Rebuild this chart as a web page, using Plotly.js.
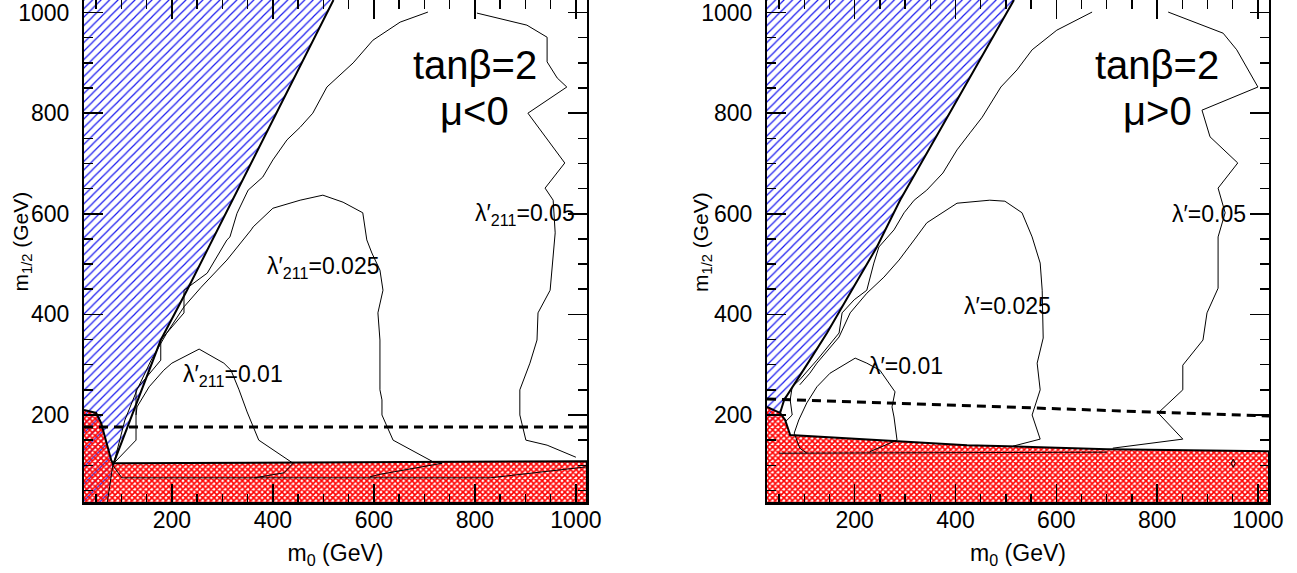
<!DOCTYPE html>
<html>
<head>
<meta charset="utf-8">
<script src="https://cdn.plot.ly/plotly-3.0.1.min.js"></script>
<style>html,body{margin:0;padding:0;background:#fff;}#chart{width:1297px;height:573px;}</style>
</head>
<body>
<div id="chart"></div>
<script>
// ---------- axis ranges / ticks ----------
const m0Range = [26, 1022];
const mHalfRange = [25, 1025];

// ================= LEFT PANEL : tan(beta)=2, mu<0 =================
// excluded (blue hatched) region
const neg_blueX = [26, 520, 230, 178, 83, 72, 26];
const neg_blueY = [1025, 1025, 448, 349, 100, 25, 25];
const neg_blueEdgeX = [520, 230, 178, 83];
const neg_blueEdgeY = [1025, 448, 349, 100];
const neg_blueLowX = [83, 72];
const neg_blueLowY = [100, 25];
// excluded (red cross-hatched) region
const neg_redX = [26, 50, 60, 70, 80, 83, 1022, 1022, 26];
const neg_redY = [210, 204, 184, 144, 110, 104, 108, 25, 25];
// dashed line
const neg_dashX = [26, 1022];
const neg_dashY = [176, 176];
// contour lambda'=0.05
const neg_c05X = [1000, 943, 901, 889, 889, 909, 923, 925, 949, 959, 955, 939, 978, 963, 905, 982, 963, 943, 943, 903, 804, null,
  707, 652, 598, 559, 507, 479, 454, 428, 400, 380, 351, 329, 315, 309, 270, 234, 224, 224, 178, 178, 129, 129, 85];
const neg_c05Y = [116, 140, 150, 200, 250, 303, 349, 403, 448, 562, 627, 651, 701, 721, 800, 852, 870, 902, 951, 975, 999, null,
  1001, 981, 945, 900, 852, 800, 772, 747, 707, 673, 647, 601, 554, 548, 482, 454, 448, 403, 349, 309, 250, 150, 104];
// contour lambda'=0.025
const neg_c025X = [592, 612, 735, 717, 638, 616, 616, 612, 612, 608, 618, 612, 596, 586, 578, 539, 499, 454, 400, 361, 357, 309, 258, 224, 190, 159, 131, 107, 85];
const neg_c025Y = [77, 82, 104, 107, 150, 200, 230, 250, 349, 403, 448, 488, 522, 548, 602, 623, 637, 627, 611, 574, 568, 508, 454, 415, 363, 309, 250, 190, 104];
// contour lambda'=0.01
const neg_c01X = [363, 422, 440, 422, 372, 349, 333, 317, 303, 254, 200, 184, 155, 131, 129];
const neg_c01Y = [75, 85, 104, 116, 150, 206, 250, 289, 303, 331, 303, 289, 256, 216, 200];
// contour continuation inside red region
const neg_innerX = [83, 101, 830, 1022];
const neg_innerY = [100, 75, 75, 97];

// ================= RIGHT PANEL : tan(beta)=2, mu>0 =================
const pos_blueX = [26, 516, 290, 244, 191, 145, 111, 76, 60, 52, 40, 26];
const pos_blueY = [1025, 1025, 627, 534, 442, 363, 309, 256, 230, 204, 185, 170];
const pos_blueEdgeX = [516, 290, 244, 191, 145, 111, 76, 60, 52];
const pos_blueEdgeY = [1025, 627, 534, 442, 363, 309, 256, 230, 204];
const pos_redX = [26, 52, 62, 72, 423, 701, 1022, 1022, 26];
const pos_redY = [216, 204, 190, 160, 140, 132, 128, 25, 25];
const pos_dashX = [26, 1022];
const pos_dashY = [232, 198];
const pos_c05X = [712, 851, 802, 851, 851, 891, 899, 921, 921, 935, 921, 960, 905, 889, 1000, 958, 931, 822, null,
  671, 601, 552, 522, 490, 474, 453, 429, 403, 375, 343, 318, 298, 278, 248, 238, 224, 199, 175, 169, 125, 91, 76, 72, 76, 62];
const pos_c05Y = [134, 152, 204, 250, 299, 349, 403, 452, 554, 602, 651, 701, 753, 806, 852, 926, 959, 1001, null,
  1001, 965, 926, 886, 852, 826, 792, 761, 727, 681, 647, 627, 602, 568, 534, 502, 448, 429, 403, 363, 309, 270, 256, 230, 200, 186];
const pos_c025X = [514, 568, 552, 568, 562, 574, 572, 568, 552, 532, 498, 468, 403, 343, 318, 288, 258, 224, 191, 169, 125, 111, 91];
const pos_c025Y = [138, 152, 200, 250, 303, 353, 448, 502, 554, 602, 625, 627, 621, 582, 548, 508, 474, 442, 403, 355, 303, 283, 260];
const pos_c01X = [105, 91, 80, 89, 105, 125, 151, 189, 201, 224, 250, 280, 274, 278, 284, 230];
const pos_c01Y = [124, 134, 164, 190, 224, 256, 283, 305, 313, 303, 289, 246, 216, 196, 150, 127];
const pos_innerX = [50, 700];
const pos_innerY = [124, 126];
const pos_loopX = [951, 955, 951, 947, 951];
const pos_loopY = [112, 104, 96, 104, 112];

// ---------- helpers ----------
const FONT = 'Liberation Sans, Arial, Helvetica, sans-serif';
function ln(x, y, w, xa, ya, dash) {
  return {x: x, y: y, xaxis: xa, yaxis: ya, type: 'scatter', mode: 'lines',
    line: {color: '#000', width: w, dash: dash || 'solid'}, connectgaps: false,
    hoverinfo: 'skip', showlegend: false};
}
function blue(x, y, xa, ya) {
  return {x: x, y: y, xaxis: xa, yaxis: ya, type: 'scatter', mode: 'lines', fill: 'toself',
    fillcolor: 'rgba(0,0,0,0)', line: {width: 0, color: 'rgba(0,0,0,0)'},
    fillpattern: {shape: '/', fgcolor: '#1a1aee', size: 6, solidity: 0.2},
    hoverinfo: 'skip', showlegend: false};
}
function red(x, y, xa, ya) {
  return {x: x, y: y, xaxis: xa, yaxis: ya, type: 'scatter', mode: 'lines', fill: 'toself',
    fillcolor: 'rgba(0,0,0,0)', line: {width: 2, color: '#000'},
    fillpattern: {shape: 'x', fgcolor: '#ff0000', size: 4, solidity: 0.65},
    hoverinfo: 'skip', showlegend: false};
}

const traces = [
  blue(neg_blueX, neg_blueY, 'x', 'y'),
  red(neg_redX, neg_redY, 'x', 'y'),
  ln(neg_innerX, neg_innerY, 1, 'x', 'y'),
  ln(neg_blueLowX, neg_blueLowY, 1, 'x', 'y'),
  ln(neg_c05X, neg_c05Y, 1, 'x', 'y'),
  ln(neg_c025X, neg_c025Y, 1, 'x', 'y'),
  ln(neg_c01X, neg_c01Y, 1, 'x', 'y'),
  ln(neg_blueEdgeX, neg_blueEdgeY, 2, 'x', 'y'),
  ln(neg_dashX, neg_dashY, 3, 'x', 'y', '9px,6px'),

  blue(pos_blueX, pos_blueY, 'x2', 'y2'),
  red(pos_redX, pos_redY, 'x2', 'y2'),
  ln(pos_innerX, pos_innerY, 1, 'x2', 'y2'),
  ln(pos_loopX, pos_loopY, 1, 'x2', 'y2'),
  ln(pos_c05X, pos_c05Y, 1, 'x2', 'y2'),
  ln(pos_c025X, pos_c025Y, 1, 'x2', 'y2'),
  ln(pos_c01X, pos_c01Y, 1, 'x2', 'y2'),
  ln(pos_blueEdgeX, pos_blueEdgeY, 2, 'x2', 'y2'),
  ln(pos_dashX, pos_dashY, 3, 'x2', 'y2', '9px,6px')
];

function xAx(domain, anchor) {
  return {domain: domain, anchor: anchor, range: m0Range, tick0: 0, dtick: 200,
    ticks: 'inside', ticklen: 19, tickwidth: 1.5, tickcolor: '#000',
    minor: {tick0: 0, dtick: 50, ticks: 'inside', ticklen: 9, tickwidth: 1.5, tickcolor: '#000'},
    showline: true, linewidth: 2, linecolor: '#000', mirror: 'ticks',
    showgrid: false, zeroline: false, ticklabelstandoff: -5, ticklabeloverflow: 'allow',
    tickfont: {family: FONT, size: 23, color: '#000'},
    title: {text: 'm<sub>0</sub> (GeV)', font: {family: FONT, size: 23, color: '#000'}, standoff: 13}};
}
function yAx(anchor) {
  return {domain: [0, 1], anchor: anchor, range: mHalfRange, tick0: 0, dtick: 200,
    ticks: 'inside', ticklen: 19, tickwidth: 1.5, tickcolor: '#000',
    minor: {tick0: 0, dtick: 50, ticks: 'inside', ticklen: 9, tickwidth: 1.5, tickcolor: '#000'},
    showline: true, linewidth: 2, linecolor: '#000', mirror: 'ticks',
    showgrid: false, zeroline: false, ticklabelstandoff: 8, ticklabeloverflow: 'allow',
    tickfont: {family: FONT, size: 23, color: '#000'}};
}

function txt(x, y, t, size, xa, ya, anchor) {
  return {x: x, y: y, xref: xa, yref: ya, text: t, showarrow: false,
    xanchor: anchor || 'center', yanchor: 'middle',
    font: {family: FONT, size: size, color: '#000'}};
}

const layout = {
  width: 1297, height: 573,
  margin: {l: 0, r: 0, t: 0, b: 70},
  paper_bgcolor: '#fff', plot_bgcolor: '#fff',
  showlegend: false,
  xaxis: xAx([84 / 1297, 587 / 1297], 'y'),
  yaxis: yAx('x'),
  xaxis2: xAx([767 / 1297, 1269 / 1297], 'y2'),
  yaxis2: yAx('x2'),
  annotations: [
    txt(800, 896, 'tanβ=2', 40, 'x', 'y'),
    txt(800, 804, 'μ<0', 40, 'x', 'y'),
    txt(796, 598, 'λ′<sub>211</sub>=0.05', 23, 'x', 'y', 'left'),
    txt(384, 494, 'λ′<sub>211</sub>=0.025', 23, 'x', 'y', 'left'),
    txt(218, 279, 'λ′<sub>211</sub>=0.01', 23, 'x', 'y', 'left'),
    txt(800, 896, 'tanβ=2', 40, 'x2', 'y2'),
    txt(800, 804, 'μ>0', 40, 'x2', 'y2'),
    txt(826, 600, 'λ′=0.05', 23, 'x2', 'y2', 'left'),
    txt(413, 417, 'λ′=0.025', 23, 'x2', 'y2', 'left'),
    txt(224, 297, 'λ′=0.01', 23, 'x2', 'y2', 'left'),
    {x: 21.5 / 1297, y: (503 - 242) / 503, xref: 'paper', yref: 'paper', text: 'm<sub>1/2</sub> (GeV)',
      textangle: -90, showarrow: false, xanchor: 'center', yanchor: 'middle',
      font: {family: FONT, size: 21, color: '#000'}},
    {x: 702 / 1297, y: (503 - 242) / 503, xref: 'paper', yref: 'paper', text: 'm<sub>1/2</sub> (GeV)',
      textangle: -90, showarrow: false, xanchor: 'center', yanchor: 'middle',
      font: {family: FONT, size: 21, color: '#000'}}
  ]
};

Plotly.newPlot('chart', traces, layout, {staticPlot: true, displayModeBar: false});
</script>
</body>
</html>
